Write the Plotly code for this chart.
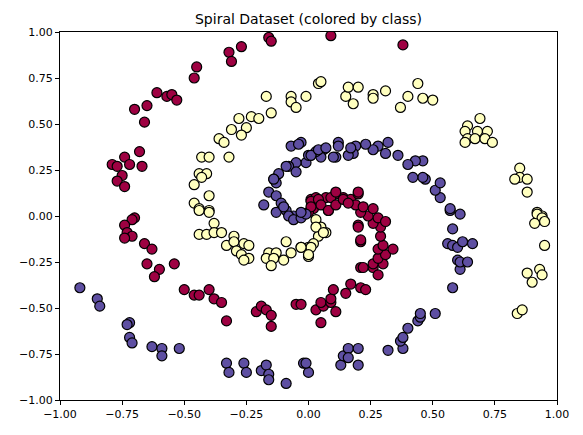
import plotly.graph_objects as go

# class 0 (dark red)
x0 = [-0.16, -0.15, -0.27, -0.32, -0.31, -0.45, -0.46, -0.61, -0.57, -0.55, -0.53, -0.65, -0.70, -0.66,
      -0.68, -0.74, -0.67, -0.72, -0.79, -0.77, -0.75, -0.77, -0.74, -0.70, -0.71, -0.74, -0.73, -0.71, -0.74,
      -0.66, -0.63, -0.65, -0.60, -0.62, -0.54, -0.50, -0.46, -0.44, -0.40, -0.38, -0.35, -0.33,
      -0.21, -0.19, -0.17, -0.15, -0.15, -0.05, 0.03, 0.06, 0.05, 0.09, 0.09, 0.10, 0.11, 0.05, -0.03,
      0.15, 0.17, 0.21, 0.23, 0.21, 0.26, 0.28, 0.30, 0.26, 0.28, 0.31, 0.34, 0.28, 0.30, 0.21, 0.20,
      0.29, 0.29, 0.26, 0.28, 0.31, 0.24, 0.21, 0.09, 0.38,
      0.01, 0.03, 0.07, 0.11, 0.14, 0.17, 0.20, 0.19, 0.22, 0.26, 0.08,
      0.01, 0.04, 0.02, 0.05, 0.08, 0.09, 0.11, 0.11, 0.14, 0.16, 0.20, 0.20, 0.21, 0.22, 0.00, 0.01]
y0 = [0.97, 0.95, 0.92, 0.89, 0.84, 0.81, 0.75, 0.67, 0.65, 0.66, 0.63, 0.60, 0.58, 0.51,
      0.35, 0.32, 0.27, 0.28, 0.28, 0.27, 0.22, 0.19, 0.16, -0.01, -0.02, -0.05, -0.09, -0.11, -0.12,
      -0.15, -0.18, -0.26, -0.29, -0.33, -0.26, -0.40, -0.43, -0.43, -0.40, -0.45, -0.47, -0.57,
      -0.52, -0.49, -0.51, -0.54, -0.60, -0.48, -0.51, -0.49, -0.47, -0.47, -0.45, -0.40, -0.52, -0.58, -0.48,
      -0.42, -0.37, -0.39, -0.40, -0.28, -0.28, -0.32, -0.26, -0.26, -0.23, -0.21, -0.18, -0.18, -0.16, -0.14, -0.05,
      -0.11, -0.06, -0.04, -0.01, -0.03, 0.00, 0.02, 0.98, 0.93,
      0.09, 0.10, 0.10, 0.12, 0.10, 0.09, 0.12, 0.06, 0.05, 0.04, 0.03,
      0.08, 0.09, 0.04, 0.06, 0.03, 0.10, 0.13, 0.06, 0.09, 0.07, 0.13, -0.06, -0.13, -0.28, 0.02, 0.05]

# class 1 (pale yellow)
x1 = [-0.17, -0.15, -0.07, -0.07, -0.05, -0.01, -0.28, -0.23, -0.20, -0.25, -0.31, -0.27, -0.36, -0.34, -0.32,
      -0.43, -0.40, -0.44, -0.41, -0.43, -0.46, -0.40, -0.46, -0.44, -0.40,
      -0.44, -0.40, -0.38, -0.44, -0.41, -0.38, -0.35, -0.33, -0.30, -0.30, -0.26, -0.24, -0.29, -0.27, -0.24, -0.26,
      -0.16, -0.13, -0.09, -0.07, -0.17, -0.14, -0.10, -0.15, -0.03, 0.00, 0.00,
      0.03, 0.05, 0.07, 0.04, 0.02, 0.01, 0.00, -0.03, 0.03, 0.06,
      0.04, 0.05, 0.15, 0.16, 0.20, 0.18, 0.26, 0.26, 0.31, 0.37, 0.40, 0.44, 0.46, 0.50,
      0.69, 0.64, 0.68, 0.72, 0.63, 0.64, 0.67, 0.71, 0.74, 0.63,
      0.85, 0.85, 0.83, 0.88, 0.88, 0.92, 0.94,
      0.92, 0.94, 0.91, 0.95, 0.95, 0.88, 0.93, 0.94, 0.90, 0.84, 0.86]
y1 = [0.65, 0.56, 0.65, 0.62, 0.59, 0.65, 0.53, 0.54, 0.53, 0.48, 0.47, 0.44, 0.42, 0.40, 0.32,
      0.32, 0.32, 0.23, 0.23, 0.21, 0.17, 0.11, 0.07, 0.04, 0.03,
      0.03, 0.02, -0.04, -0.10, -0.10, -0.09, -0.09, -0.16, -0.11, -0.14, -0.15, -0.16, -0.19, -0.21, -0.23, -0.24,
      -0.20, -0.20, -0.14, -0.20, -0.23, -0.23, -0.24, -0.27, -0.17, -0.17, -0.22,
      -0.02, -0.06, -0.09, -0.11, -0.15, -0.17, -0.21, -0.17, -0.06, -0.09,
      0.72, 0.73, 0.65, 0.70, 0.70, 0.61, 0.66, 0.64, 0.68, 0.59, 0.65, 0.72, 0.64, 0.63,
      0.53, 0.49, 0.46, 0.46, 0.46, 0.42, 0.42, 0.42, 0.40, 0.40,
      0.26, 0.21, 0.20, 0.20, 0.13, 0.02, 0.00,
      0.01, -0.01, -0.04, -0.03, -0.16, -0.31, -0.29, -0.32, -0.36, -0.53, -0.51]

# class 2 (purple)
x2 = [-0.92, -0.85, -0.84, -0.72, -0.73, -0.72, -0.71, -0.63, -0.59, -0.59, -0.52,
      -0.33, -0.32, -0.26, -0.25, -0.19, -0.17, -0.16, -0.16, -0.09, -0.02, 0.00,
      -0.01, 0.13, 0.14, 0.16, 0.16, 0.20, 0.20, 0.32, 0.38, 0.37, 0.38, 0.40, 0.44, 0.45, 0.45, 0.51,
      0.58, 0.61, 0.60, 0.61, 0.64, 0.56, 0.58, 0.60, 0.62, 0.66, 0.58, 0.61, 0.57,
      0.57, 0.53, 0.51, 0.53, 0.47, 0.46, 0.42, 0.46, 0.43, 0.40, 0.36, 0.32, 0.31, 0.28, 0.26, 0.23,
      0.19, 0.18, 0.16, 0.17, 0.12, 0.12, 0.11, 0.10, 0.06, 0.05, 0.03, 0.01, -0.01, -0.03,
      -0.07, -0.04, 0.00, -0.05, -0.08, -0.12, -0.05, -0.14, -0.16, -0.13, -0.18, -0.11, -0.13, -0.09, -0.06,
      0.01, 0.04, 0.07, -0.09, -0.13, -0.14, -0.10, -0.08, -0.06, -0.03, -0.01, -0.03]
y2 = [-0.39, -0.45, -0.49, -0.58, -0.59, -0.66, -0.69, -0.71, -0.72, -0.76, -0.72,
      -0.80, -0.85, -0.80, -0.85, -0.84, -0.81, -0.86, -0.89, -0.91, -0.80, -0.85,
      -0.80, -0.81, -0.76, -0.72, -0.77, -0.72, -0.81, -0.73, -0.72, -0.68, -0.66, -0.61, -0.57, -0.55, -0.53, -0.53,
      -0.39, -0.29, -0.24, -0.25, -0.25, -0.15, -0.16, -0.17, -0.14, -0.15, -0.07, 0.01, 0.03,
      0.04, 0.10, 0.14, 0.18, 0.20, 0.21, 0.21, 0.30, 0.30, 0.28, 0.33, 0.40, 0.34, 0.38, 0.36, 0.39,
      0.38, 0.34, 0.33, 0.37, 0.40, 0.38, 0.32, 0.32, 0.36, 0.32, 0.35, 0.33, 0.29, 0.40,
      0.38, 0.39, 0.33, 0.29, 0.27, 0.23, 0.24, 0.20, 0.13, 0.11, 0.06, 0.07, 0.02, 0.03, 0.00,
      0.33, 0.36, 0.37, 0.27, 0.18, 0.20, 0.05, 0.00, -0.02, -0.01, 0.01, 0.02]

classes = [(x0, y0, "#9e0142"), (x1, y1, "#ffffbf"), (x2, y2, "#5e4fa2")]

fig = go.Figure()
for xs, ys, col in classes:
    fig.add_trace(go.Scatter(
        x=xs, y=ys, mode="markers",
        marker=dict(size=10, color=col, line=dict(color="black", width=1.2)),
        showlegend=False,
    ))

axis = dict(range=[-1, 1], tickvals=[-1, -0.75, -0.5, -0.25, 0, 0.25, 0.5, 0.75, 1],
            tickformat=".2f", showgrid=False, zeroline=False, showline=True,
            linecolor="black", linewidth=1, mirror=True, ticks="outside",
            ticklen=4, tickcolor="black", tickfont=dict(size=11, color="black"))

fig.update_layout(
    width=583, height=435,
    margin=dict(l=52, r=34, t=24, b=43),
    paper_bgcolor="white", plot_bgcolor="white",
    font=dict(family="DejaVu Sans", color="black"),
    title=dict(text="Spiral Dataset (colored by class)", xref="paper", x=0.5, xanchor="center",
               yref="container", y=0.975, yanchor="middle", font=dict(size=14)),
    xaxis=axis, yaxis=axis,
)

fig.write_html("out.html")
